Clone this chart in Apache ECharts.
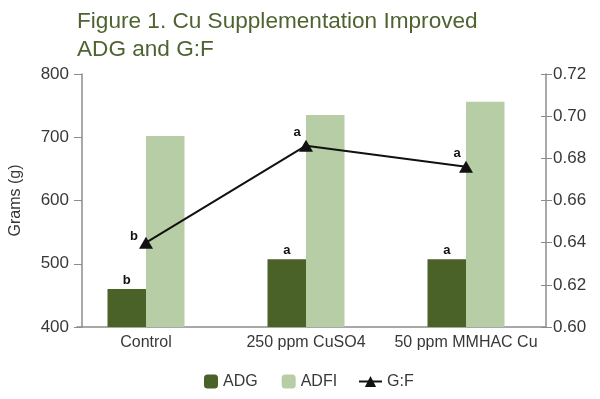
<!DOCTYPE html>
<html>
<head>
<meta charset="utf-8">
<script src="https://cdn.jsdelivr.net/npm/echarts@6/dist/echarts.min.js"></script>
<style>
  html, body { margin: 0; padding: 0; background: #fff; }
  #chart { width: 600px; height: 399px; }
</style>
</head>
<body>
<div id="chart"></div>
<script>
const categories = ['Control', '250 ppm CuSO4', '50 ppm MMHAC Cu'];
const adg = [460, 507, 507];
const adfi = [702, 735, 756];
const gf = [0.640, 0.686, 0.676];
const adgLetters = ['b', 'a', 'a'];
const gfLetters = ['b', 'a', 'a'];

const font = 'Liberation Sans, Arial, sans-serif';
const axisGray = '#8c8c8c';
const textColor = '#383838';

const chart = echarts.init(document.getElementById('chart'), null, { renderer: 'canvas' });

// two grids: one carries the bars (wider, so the groups sit where the original has them),
// the other only draws the axis frame
const option = {
  animation: false,
  textStyle: { fontFamily: font },
  title: {
    text: 'Figure 1. Cu Supplementation Improved\nADG and G:F',
    left: 77,
    top: 8,
    padding: 0,
    textStyle: {
      fontFamily: font,
      fontSize: 22.6,
      fontWeight: 'normal',
      lineHeight: 28,
      color: '#4e6331'
    }
  },
  legend: [
    {
      data: ['ADG', 'ADFI'],
      left: 204,
      top: 373.5,
      padding: 0,
      itemWidth: 14,
      itemHeight: 14,
      itemGap: 24,
      textStyle: { fontSize: 16, color: textColor, fontFamily: font }
    },
    {
      data: ['G:F'],
      left: 358,
      top: 373.5,
      padding: 0,
      itemWidth: 23,
      itemHeight: 14,
      textStyle: { fontSize: 16, color: textColor, fontFamily: font }
    }
  ],
  grid: [
    { left: 61, right: 54, top: 74, bottom: 72 },
    { left: 77, right: 54, top: 74, bottom: 72 }
  ],
  xAxis: [
    {
      type: 'category',
      gridIndex: 0,
      data: categories,
      axisLine: { show: false },
      axisTick: { show: false },
      axisLabel: { fontSize: 16, color: textColor, margin: 8, interval: 0 }
    },
    {
      type: 'value',
      gridIndex: 1,
      min: 0,
      max: 1,
      axisLine: { show: true, lineStyle: { color: axisGray, width: 1.5 } },
      axisTick: { show: false },
      axisLabel: { show: false },
      splitLine: { show: false }
    }
  ],
  yAxis: [
    {
      type: 'value',
      gridIndex: 0,
      position: 'left',
      offset: -16,
      min: 400,
      max: 800,
      interval: 100,
      name: 'Grams (g)',
      nameLocation: 'middle',
      nameGap: 58,
      nameTextStyle: { fontSize: 16, color: textColor },
      axisLine: { show: true, lineStyle: { color: axisGray, width: 1.5 } },
      axisTick: { show: true, length: 8, lineStyle: { color: axisGray } },
      axisLabel: { fontSize: 17, color: textColor, margin: 13 },
      splitLine: { show: false }
    },
    {
      type: 'value',
      gridIndex: 0,
      position: 'right',
      min: 0.6,
      max: 0.72,
      interval: 0.02,
      axisLine: { show: true, lineStyle: { color: axisGray, width: 1.5 } },
      axisTick: { show: true, length: 6, lineStyle: { color: axisGray } },
      axisLabel: {
        fontSize: 17,
        color: textColor,
        margin: 7,
        formatter: (v) => v.toFixed(2)
      },
      splitLine: { show: false }
    },
    {
      // inner half of the crossing ticks
      type: 'value',
      gridIndex: 1,
      position: 'left',
      min: 400,
      max: 800,
      interval: 100,
      axisLine: { show: false },
      axisTick: { show: true, inside: true, length: 4, lineStyle: { color: axisGray } },
      axisLabel: { show: false },
      splitLine: { show: false }
    },
    {
      type: 'value',
      gridIndex: 1,
      position: 'right',
      min: 0.6,
      max: 0.72,
      interval: 0.02,
      axisLine: { show: false },
      axisTick: { show: true, inside: true, length: 5, lineStyle: { color: axisGray } },
      axisLabel: { show: false },
      splitLine: { show: false }
    }
  ],
  series: [
    {
      name: 'ADG',
      type: 'bar',
      xAxisIndex: 0,
      yAxisIndex: 0,
      barWidth: 38.5,
      barGap: '0%',
      itemStyle: { color: '#4a6128' },
      label: {
        show: true,
        position: 'top',
        distance: 2,
        fontSize: 13,
        fontWeight: 'bold',
        color: '#111',
        formatter: (p) => adgLetters[p.dataIndex]
      },
      data: adg
    },
    {
      name: 'ADFI',
      type: 'bar',
      xAxisIndex: 0,
      yAxisIndex: 0,
      barWidth: 38.5,
      barGap: '0%',
      itemStyle: { color: '#b7cda5' },
      data: adfi
    },
    {
      name: 'G:F',
      type: 'line',
      xAxisIndex: 0,
      yAxisIndex: 1,
      z: 5,
      symbol: 'triangle',
      symbolSize: [14, 12],
      lineStyle: { color: '#111', width: 2 },
      itemStyle: { color: '#111' },
      label: {
        show: true,
        position: 'top',
        distance: 0,
        offset: [-9, -1],
        fontSize: 13,
        fontWeight: 'bold',
        color: '#111',
        formatter: (p) => gfLetters[p.dataIndex]
      },
      data: gf.map((v, i) => i === 0 ? { value: v, label: { offset: [-12, 6] } } : v)
    }
  ]
};

chart.setOption(option);
</script>
</body>
</html>
